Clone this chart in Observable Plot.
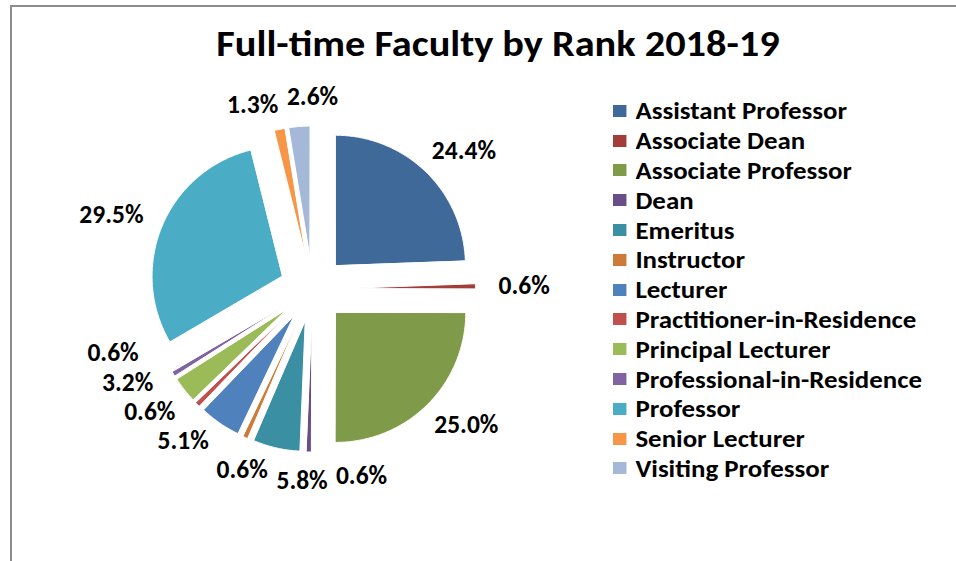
<!DOCTYPE html>
<html><head><meta charset="utf-8">
<script src="https://cdn.jsdelivr.net/npm/d3@7"></script>
<script src="https://cdn.jsdelivr.net/npm/@observablehq/plot@0.6"></script>
<style>
body{margin:0;background:#fff;}
#wrap{position:relative;width:956px;height:561px;overflow:hidden;font-family:Carlito,Lato,sans-serif;color:#000;}
#frame{position:absolute;left:10px;top:5px;width:980px;height:600px;border-left:2px solid #8c8c8c;border-top:2px solid #8c8c8c;}
#title{position:absolute;left:0;width:996px;top:24px;text-align:center;font-weight:bold;font-size:36px;line-height:40px;transform:scaleX(1.12);transform-origin:498px 0;}
#chart{position:absolute;left:0;top:0;}
#legend{position:absolute;left:613px;top:96px;transform:scaleX(1.12);transform-origin:0 0;}
#legend, #legend *{font-family:Carlito,Lato,sans-serif !important;font-size:24px !important;font-weight:bold !important;color:#000 !important;}
#legend > div{margin:0 !important;}
#legend div div{height:29.8px;padding:0 !important;display:flex;align-items:center;}
#legend svg{margin-right:8px !important;flex-shrink:0;}
</style></head>
<body>
<div id="wrap">
  <div id="frame"></div>
  <div id="title">Full-time Faculty by Rank 2018-19</div>
  <div id="chart"></div>
  <div id="legend"></div>
</div>
<script>
const ranks = ["Assistant Professor","Associate Dean","Associate Professor","Dean","Emeritus","Instructor","Lecturer","Practitioner-in-Residence","Principal Lecturer","Professional-in-Residence","Professor","Senior Lecturer","Visiting Professor"];
const shares = [24.4, 0.6, 25.0, 0.6, 5.8, 0.6, 5.1, 0.6, 3.2, 0.6, 29.5, 1.3, 2.6];
const colors = ["#3F6998","#A33D3A","#7F9A48","#674E87","#3B8FA3","#CC7B38","#4F81BD","#C0504D","#9BBB59","#8064A2","#4BACC6","#F79646","#A6B8D8"];
const labels = shares.map(v => v.toFixed(1) + "%");

// geometry (pixels)
const CX = 312, CY = 288.5, R = 130, EXPLODE = 33, RA = 180, FS = 25.5;

const arcs = d3.pie().sort(null).value(d => d)(shares);

// slice polygons
const pts = [];
arcs.forEach((a, i) => {
  const mid = (a.startAngle + a.endAngle) / 2;
  const ox = CX + EXPLODE * Math.sin(mid), oy = CY - EXPLODE * Math.cos(mid);
  pts.push({rank: ranks[i], x: ox, y: oy});
  const n = Math.max(2, Math.ceil((a.endAngle - a.startAngle) / 0.01));
  for (let k = 0; k <= n; k++) {
    const t = a.startAngle + (a.endAngle - a.startAngle) * k / n;
    pts.push({rank: ranks[i], x: ox + R * Math.sin(t), y: oy - R * Math.cos(t)});
  }
});

// label placement with simple collision spreading
const ctx = document.createElement("canvas").getContext("2d");
ctx.font = `bold ${FS}px Carlito, Lato`;
const items = arcs.map((a, i) => ({i, theta: (a.startAngle + a.endAngle) / 2, w: ctx.measureText(labels[i]).width, h: 29}));
function place(it) {
  const s = Math.sin(it.theta), c = Math.cos(it.theta);
  return {x: CX + RA * s + s * it.w / 2 + s * 6, y: CY - RA * c - c * 12};
}
for (let iter = 0; iter < 3000; iter++) {
  let moved = false;
  for (let j = 0; j < items.length; j++) for (let k = j + 1; k < items.length; k++) {
    const a = items[j], b = items[k], pa = place(a), pb = place(b);
    const ox = (a.w + b.w) / 2 + 8 - Math.abs(pa.x - pb.x);
    const oy = (a.h + b.h) / 2 - Math.abs(pa.y - pb.y);
    if (ox > 0 && oy > 0) { a.theta -= 0.002; b.theta += 0.002; moved = true; }
  }
  if (!moved) break;
}
const labelData = items.map(it => ({...place(it), text: labels[it.i]}));

const color = {type: "ordinal", domain: ranks, range: colors};

const chart = Plot.plot({
  width: 956, height: 561, margin: 0,
  x: {type: "identity", axis: null},
  y: {type: "identity", axis: null},
  color,
  style: {background: "transparent", overflow: "visible"},
  marks: [
    Plot.line(pts, {x: "x", y: "y", z: "rank", fill: "rank", stroke: "white", strokeWidth: 1, curve: "linear-closed"}),
    Plot.text(labelData, {x: "x", y: "y", text: "text", fontSize: FS, fontWeight: "bold", fontFamily: "Carlito, Lato, sans-serif", fill: "black", textAnchor: "middle", lineAnchor: "middle"})
  ]
});
document.getElementById("chart").append(chart);

const legend = Plot.legend({color, legend: "swatches", columns: 1, swatchSize: 12, className: "lg"});
document.getElementById("legend").append(legend);
</script>
</body></html>
